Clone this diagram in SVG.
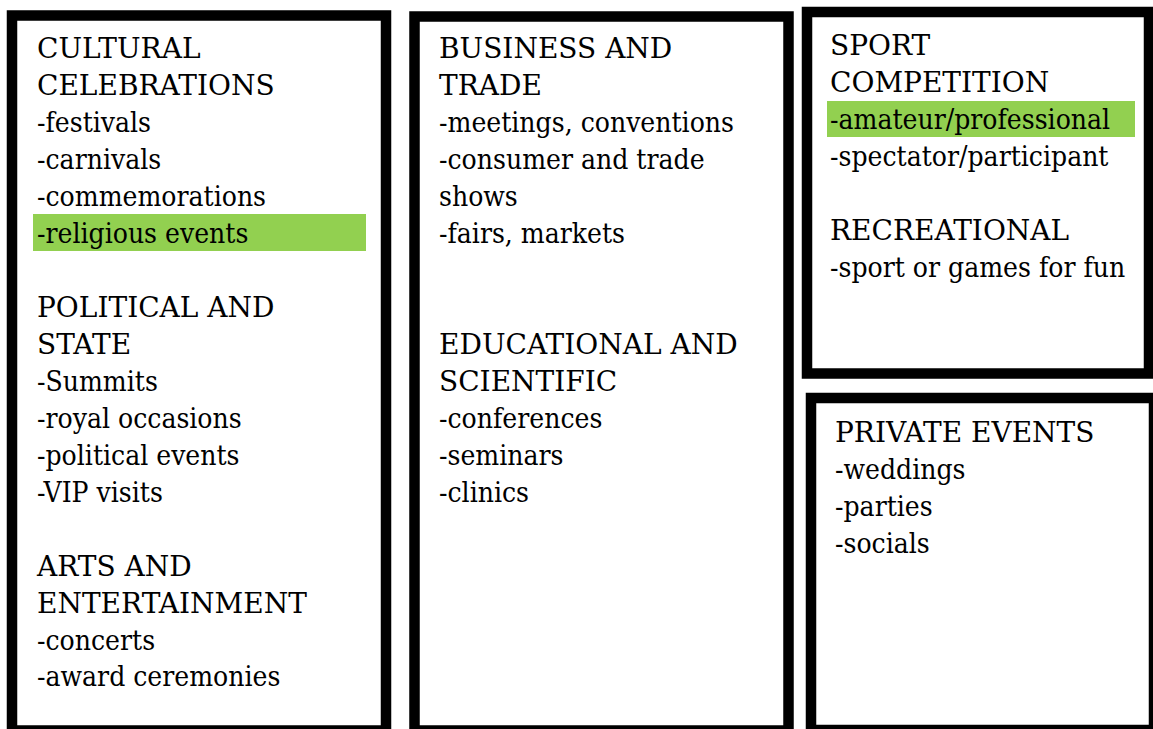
<svg xmlns="http://www.w3.org/2000/svg" width="1153" height="729" viewBox="0 0 1153 729">
<style>
.box{fill:#fff;stroke:#000;stroke-width:10.5}
.hl{fill:#92D050}
.t{font-family:'DejaVu Serif Condensed','DejaVu Serif',serif;font-stretch:condensed;font-size:28px;fill:#000}
.h{font-family:'DejaVu Serif',serif;font-stretch:normal;font-size:28px}
</style>
<rect width="1153" height="729" fill="#fff"/>
<g id="connectors"></g>
<g class="t">
<g id="box-cultural">
<rect class="box" x="12" y="15.5" width="374" height="715"/>
<rect class="hl" x="33" y="214" width="333" height="37"/>
<text class="h" x="37" y="57.5">CULTURAL</text>
<text class="h" x="37" y="94.5">CELEBRATIONS</text>
<text x="37" y="131.5">-festivals</text>
<text x="37" y="168.5">-carnivals</text>
<text x="37" y="205.5">-commemorations</text>
<text x="37" y="242.5">-religious events</text>
<text class="h" x="37" y="316.5">POLITICAL AND</text>
<text class="h" x="37" y="353.5">STATE</text>
<text x="37" y="390.5">-Summits</text>
<text x="37" y="427.5">-royal occasions</text>
<text x="37" y="464.5">-political events</text>
<text x="37" y="501.5">-VIP visits</text>
<text class="h" x="37" y="575.5">ARTS AND</text>
<text class="h" x="37" y="612.5">ENTERTAINMENT</text>
<text x="37" y="649.5">-concerts</text>
<text x="37" y="686">-award ceremonies</text>
</g>
<g id="box-business">
<rect class="box" x="414.5" y="16.5" width="374" height="714"/>
<text class="h" x="439" y="58">BUSINESS AND</text>
<text class="h" x="439" y="95">TRADE</text>
<text x="439" y="132">-meetings, conventions</text>
<text x="439" y="169">-consumer and trade</text>
<text x="439" y="206">shows</text>
<text x="439" y="243">-fairs, markets</text>
<text class="h" x="439" y="354">EDUCATIONAL AND</text>
<text class="h" x="439" y="391">SCIENTIFIC</text>
<text x="439" y="428">-conferences</text>
<text x="439" y="465">-seminars</text>
<text x="439" y="502">-clinics</text>
</g>
<g id="box-sport">
<rect class="box" x="807" y="12" width="342" height="361.5"/>
<rect class="hl" x="827" y="101" width="308" height="36"/>
<text class="h" x="830" y="55">SPORT</text>
<text class="h" x="830" y="92">COMPETITION</text>
<text x="830" y="129">-amateur/professional</text>
<text x="830" y="166">-spectator/participant</text>
<text class="h" x="830" y="240">RECREATIONAL</text>
<text x="830" y="277">-sport or games for fun</text>
</g>
<g id="box-private">
<rect class="box" x="811" y="398" width="343" height="332"/>
<text class="h" x="835" y="442">PRIVATE EVENTS</text>
<text x="835" y="479">-weddings</text>
<text x="835" y="516">-parties</text>
<text x="835" y="553">-socials</text>
</g>
</g>
</svg>
